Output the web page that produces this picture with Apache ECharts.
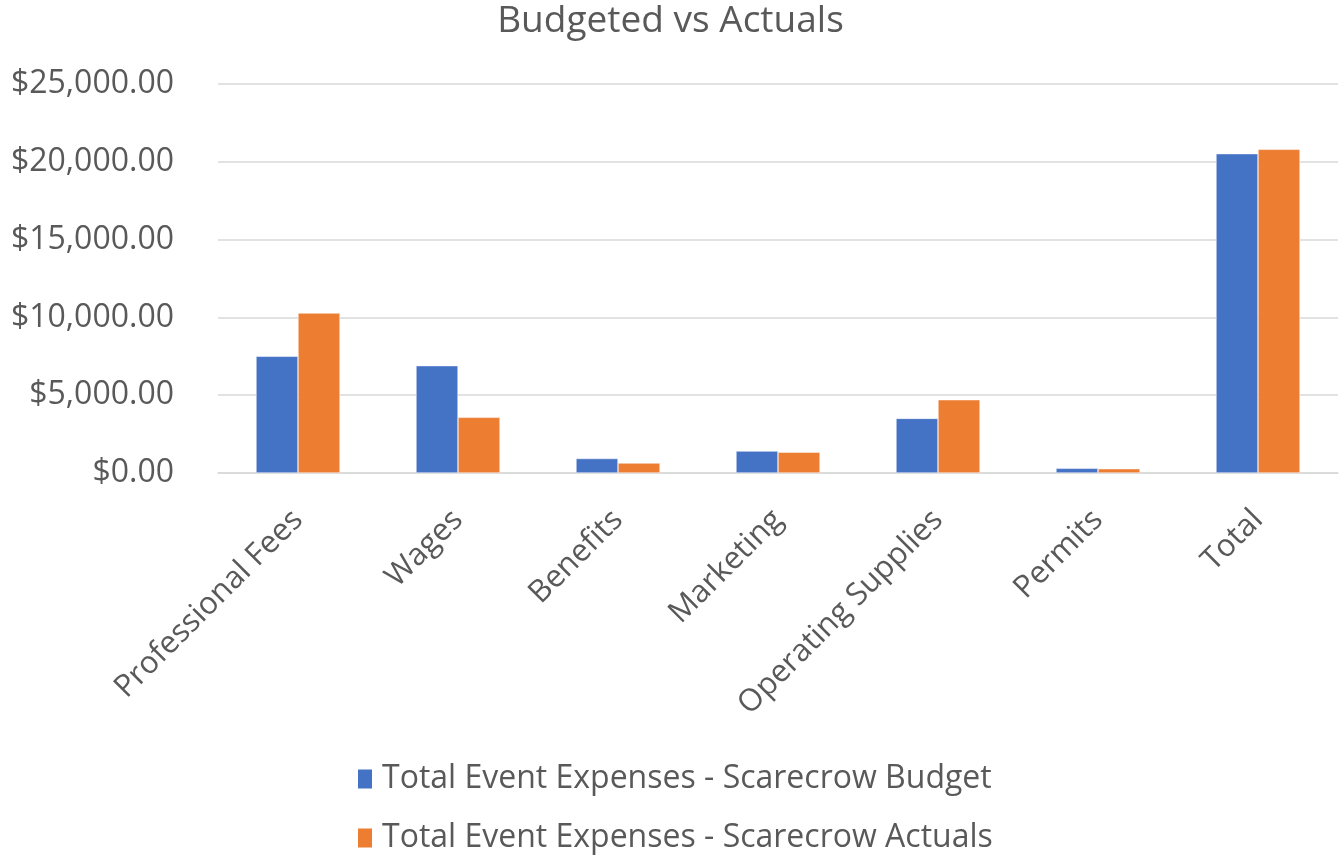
<!DOCTYPE html>
<html>
<head>
<meta charset="utf-8">
<script src="https://cdn.jsdelivr.net/npm/echarts@6/dist/echarts.min.js"></script>
<style>
  html, body { margin: 0; padding: 0; background: #fff; }
  #chart { width: 1341px; height: 861px; }
</style>
</head>
<body>
<div id="chart"></div>
<script>
// Expense categories and the two compared series
const categories = ['Professional Fees', 'Wages', 'Benefits', 'Marketing', 'Operating Supplies', 'Permits', 'Total'];
const budgetValues = [7500, 6900, 930, 1410, 3510, 300, 20525];
const actualValues = [10280, 3575, 640, 1340, 4710, 275, 20800];
const seriesNames = ['Total Event Expenses - Scarecrow Budget', 'Total Event Expenses - Scarecrow Actuals'];
const yTicks = { min: 0, max: 25000, interval: 5000 };

const FONT = '"Open Sans", "Liberation Sans", sans-serif';
const TEXT = '#595959';

const chart = echarts.init(document.getElementById('chart'), null, { renderer: 'canvas' });

function money(v) {
  return '$' + v.toLocaleString('en-US', { minimumFractionDigits: 2, maximumFractionDigits: 2 });
}

// one legend row per series, stacked under the plot
function legendRow(name, top) {
  return {
    orient: 'horizontal',
    left: 351,
    top: top,
    itemWidth: 16,
    itemHeight: 21,
    icon: 'rect',
    textStyle: { fontFamily: FONT, fontSize: 32, color: TEXT, padding: [0, 0, 0, 4] },
    data: [name]
  };
}

chart.setOption({
  animation: false,
  backgroundColor: '#ffffff',
  title: {
    text: 'Budgeted vs Actuals',
    left: 'center',
    top: -2,
    textStyle: { fontFamily: FONT, fontSize: 37, fontWeight: 'normal', color: TEXT }
  },
  legend: [legendRow(seriesNames[0], 758), legendRow(seriesNames[1], 817)],
  grid: { left: 218, right: 3, top: 84, bottom: 388, containLabel: false },
  xAxis: {
    type: 'category',
    data: categories,
    axisLine: { lineStyle: { color: '#d9d9d9', width: 1.5 } },
    axisTick: { show: false },
    axisLabel: {
      interval: 0,
      rotate: 45,
      margin: 42,
      fontFamily: FONT,
      fontSize: 31,
      color: TEXT
    }
  },
  yAxis: {
    type: 'value',
    min: yTicks.min,
    max: yTicks.max,
    interval: yTicks.interval,
    axisLine: { show: false },
    axisTick: { show: false },
    splitLine: { lineStyle: { color: '#d9d9d9', width: 1.5 } },
    axisLabel: {
      formatter: money,
      margin: 44,
      fontFamily: FONT,
      fontSize: 32,
      color: TEXT
    }
  },
  series: [
    {
      name: seriesNames[0],
      type: 'bar',
      data: budgetValues,
      barGap: '0%',
      barCategoryGap: '47.5%',
      itemStyle: { color: '#4472c4', borderColor: '#ffffff', borderWidth: 0.5 }
    },
    {
      name: seriesNames[1],
      type: 'bar',
      data: actualValues,
      barGap: '0%',
      barCategoryGap: '47.5%',
      itemStyle: { color: '#ed7d31', borderColor: '#ffffff', borderWidth: 0.5 }
    }
  ]
});
</script>
</body>
</html>
